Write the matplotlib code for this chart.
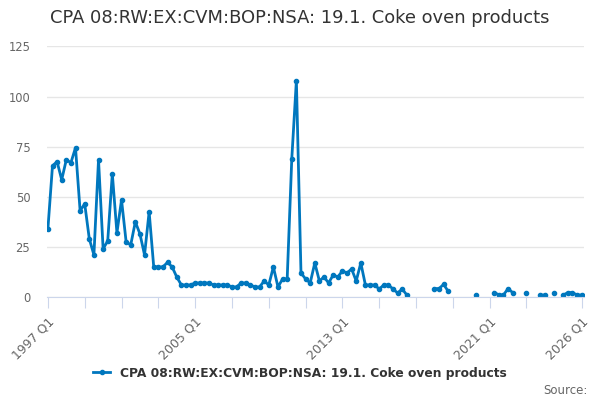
import numpy as np
import matplotlib
matplotlib.use("Agg")
import matplotlib.pyplot as plt

# Quarterly series, 1997 Q1 .. 2026 Q1 (None = no value)
start_year = 1997
values = [
    34, 65.5, 67.5, 58.5, 68.5, 67, 74.5, 43,
    46.5, 29, 21, 68.5, 24, 28, 61.5, 32,
    48.5, 27.5, 26, 37.5, 31.5, 21, 42.5, 15,
    15, 15, 17.3, 15, 10, 6, 6, 6,
    7, 7, 7, 7, 6, 6, 6, 6,
    5, 5, 7, 7, 6, 5, 5, 8,
    6, 15, 5, 9, 9, 69, 108, 12,
    9, 7, 17, 8, 10, 7, 11, 10,
    13, 12, 14, 8, 17, 6, 6, 6,
    4, 6, 6, 4, 2, 4, 1, None,
    None, None, None, None, 4.2, 4.2, 6.3, 2.8,
    None, None, None, None, None, 1.1, None, None,
    None, 2.2, 1.1, 1, 4.2, 2.2, None, None,
    2.2, None, None, 1, 1, None, 2.2, None,
    1, 2.2, 2.2, 1, 1,
]
series_name = "CPA 08:RW:EX:CVM:BOP:NSA: 19.1. Coke oven products"
y_ticks = [0, 25, 50, 75, 100, 125]

y = np.array([np.nan if v is None else v for v in values], dtype=float)
x = np.arange(len(y))
quarter_labels = [f"{start_year + i // 4} Q{i % 4 + 1}" for i in x]

line_color = "#0077be"

fig = plt.figure(figsize=(6, 4), dpi=100)
ax = fig.add_axes([0.0783, 0.2575, 0.895, 0.6263])

ax.plot(x, y, color=line_color, lw=2, marker="o", ms=3.0,
        label=series_name)

ax.set_xlim(-0.2, 116.5)
ax.set_ylim(0, 125)
ax.set_yticks(y_ticks)
ax.set_yticklabels([str(t) for t in y_ticks])
ax.yaxis.grid(True, color="#e6e6e6", lw=1)
ax.set_axisbelow(True)

tick_pos = list(range(0, 105, 8)) + [116]
ax.set_xticks(tick_pos)
label_pos = {0, 32, 64, 96, 116}
ax.set_xticklabels([quarter_labels[p] if p in label_pos else "" for p in tick_pos],
                   rotation=45, ha="right", va="top", rotation_mode="anchor")

for s in ["top", "right", "left"]:
    ax.spines[s].set_visible(False)
ax.spines["bottom"].set_color("#ccd6eb")
ax.tick_params(axis="x", length=8, color="#ccd6eb", labelsize=9, labelcolor="#666666", pad=5)
ax.tick_params(axis="y", length=0, labelsize=8.3, labelcolor="#666666", pad=12)

fig.text(0.5, 0.955, series_name, ha="center", va="center",
         fontsize=12.9, color="#333333")

leg = fig.legend(loc="center", bbox_to_anchor=(0.5, 0.067), frameon=False,
                 handlelength=1.4, prop={"weight": "bold", "size": 8.8})
for t in leg.get_texts():
    t.set_color("#333333")

fig.text(0.98, 0.025, "Source:", ha="right", va="center", fontsize=8.5, color="#666666")

fig.savefig("out.png", dpi=100)
